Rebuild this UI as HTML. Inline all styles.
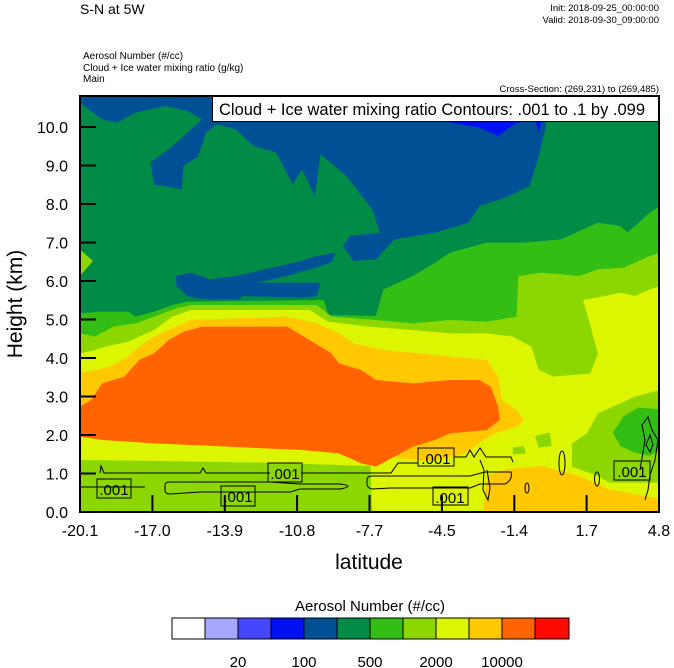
<!DOCTYPE html>
<html><head><meta charset="utf-8"><style>
body{margin:0;background:#fff;}
svg{display:block;font-family:"Liberation Sans",sans-serif;}
</style></head><body>
<svg width="674" height="668" viewBox="0 0 674 668" xmlns="http://www.w3.org/2000/svg">
<defs><clipPath id="pc"><rect x="80" y="96" width="579" height="416"/></clipPath></defs>
<g clip-path="url(#pc)">
<rect x="80" y="96" width="579" height="416" fill="#008c46"/>
<g transform="translate(80,96) scale(0.36996,0.33333)">
<!-- blue -->
<path fill="#005096" d="M0,0 L1250,0 L1260,90 L1240,180 L1215,270 L1150,305 L1080,330 L1050,380 L960,410 L850,430 L800,490 L740,495 L710,450 L730,420 L810,410 L790,340 L720,240 L650,175 L635,300 L600,220 L575,265 L530,170 L470,150 L420,100 L370,85 L340,110 L320,180 L280,210 L275,280 L200,265 L190,200 L240,160 L330,70 L290,45 L230,30 L150,50 L100,80 L60,70 L0,20 Z"/>
<path fill="#0010f0" d="M960,60 L1000,80 L1080,95 L1130,120 L1180,80 L1230,70 L1240,110 L1250,60 L1240,40 L960,40 Z"/>
<path fill="#005096" d="M260,540 L300,530 L350,550 L420,540 L500,520 L580,500 L640,480 L690,470 L680,500 L620,520 L560,540 L480,560 L440,580 L420,600 L400,580 L350,570 L330,610 L290,600 L260,570 Z"/>
<path fill="#005096" d="M260,560 L650,560 L640,600 L600,605 L440,600 L430,610 L350,610 L300,600 Z"/>
<!-- green -->
<path fill="#32be14" d="M0,652 L50,647 L130,647 L150,662 L200,647 L250,627 L290,617 L660,612 L670,657 L800,660 L820,580 L900,540 L960,500 L1000,470 L1100,440 L1200,440 L1300,430 L1400,380 L1460,390 L1480,410 L1540,350 L1568,330 L1568,1248 L0,1248 Z"/>
<path fill="#8cd700" d="M0,460 L35,495 L0,540 Z"/>
<!-- light green -->
<path fill="#8cd700" d="M0,712 L40,722 L90,692 L150,682 L200,662 L260,637 L300,627 L640,627 L680,662 L800,672 L900,682 L1000,672 L1100,677 L1180,662 L1185,540 L1250,530 L1350,540 L1400,520 L1470,515 L1540,480 L1568,470 L1568,1248 L0,1248 Z"/>
<!-- yellow -->
<path fill="#dcf500" d="M0,772 L40,762 L70,752 L130,737 L200,702 L250,662 L300,642 L620,642 L670,677 L780,692 L900,702 L1000,712 L1100,712 L1170,722 L1220,752 L1240,822 L1280,842 L1380,832 L1400,772 L1380,692 L1360,612 L1420,600 L1460,590 L1500,600 L1540,580 L1568,570 L1568,1248 L0,1248 Z"/>
<!-- gold -->
<path fill="#ffc800" d="M0,832 L40,822 L80,812 L130,782 L160,752 L200,722 L240,702 L300,672 L560,662 L640,682 L700,712 L740,742 L820,762 L920,772 L1000,782 L1100,792 L1130,842 L1140,912 L1180,942 L1200,972 L1180,992 L1120,1012 L1080,1042 L1040,1072 L950,1095 L850,1085 L780,1065 L600,1045 L400,1038 L200,1032 L0,1025 Z"/>
<!-- orange -->
<path fill="#ff6400" d="M0,932 L30,912 L60,862 L120,842 L160,792 L200,772 L240,732 L280,707 L330,692 L560,692 L620,732 L680,772 L700,802 L760,822 L800,852 L900,862 L1000,852 L1080,852 L1110,872 L1130,932 L1135,972 L1100,1002 L1000,1012 L960,1032 L900,1052 L850,1082 L800,1112 L760,1102 L700,1072 L600,1062 L400,1052 L200,1042 L60,1032 L0,1022 Z"/>
<!-- bottom-left light green -->
<path fill="#8cd700" d="M0,1092 L200,1095 L500,1100 L785,1110 L790,1248 L0,1248 Z"/>
<!-- right side patches -->
<path fill="#8cd700" d="M1568,882 L1500,902 L1400,952 L1370,1012 L1330,1042 L1330,1112 L1400,1140 L1430,1160 L1568,1160 Z"/>
<path fill="#8cd700" d="M1230,1020 L1270,1010 L1275,1050 L1240,1055 Z M1170,1055 L1200,1050 L1205,1072 L1170,1075 Z"/>
<path fill="#32be14" d="M1440,1010 L1470,960 L1510,935 L1568,940 L1568,1060 L1540,1080 L1500,1070 L1460,1050 Z"/>
<path fill="#ffc800" d="M1090,1248 L1100,1140 L1150,1120 L1250,1110 L1350,1140 L1430,1180 L1568,1210 L1568,1248 Z"/>
</g>
<!-- contours -->
<g fill="none" stroke="#000" stroke-width="1">
<path d="M80,487 H145"/>
<path d="M100,473 L101,466 L104,473 H200 L203,468 L206,473 H270"/>
<path d="M165,485 Q165,482 170,482 H270 L300,484 H340 Q356,486 340,489 H300 L290,492 H200 L170,494 Q165,494 165,490 Z"/>
<path d="M367,480 Q367,476 372,476 H470 L485,472 H511 Q513,480 505,484 H480 L470,488 H390 L372,489 Q367,488 367,484 Z"/>
<path d="M301,473 H391 L398,463 H418"/>
<path d="M454,457 H466 L470,450 L474,457 L480,448 L486,457 H511 L513,462"/>
<path d="M480,460 L484,470 L483,490 L488,500 L490,488 L487,470"/>
<ellipse cx="562" cy="463" rx="3" ry="12"/>
<ellipse cx="597" cy="479" rx="2.5" ry="7"/>
<ellipse cx="527" cy="488" rx="2" ry="5"/>
<path d="M640,470 L645,440 L642,425 L648,417 L652,430 L658,440 L655,460 L650,475 L648,490 L645,500"/>
<path d="M646,445 L650,435 L653,445 L650,452 Z"/>
</g>
<g font-size="15" text-anchor="middle">
<rect x="97" y="479" width="34" height="19" fill="none" stroke="#000"/><text x="114" y="495">.001</text>
<rect x="221" y="486" width="34" height="20" fill="none" stroke="#000"/><text x="238" y="502">.001</text>
<rect x="268" y="463" width="34" height="19" fill="none" stroke="#000"/><text x="285" y="479">.001</text>
<rect x="418" y="448" width="36" height="18" fill="none" stroke="#000"/><text x="436" y="464">.001</text>
<rect x="433" y="487" width="35" height="18" fill="none" stroke="#000"/><text x="450" y="503">.001</text>
<rect x="614" y="461" width="36" height="19" fill="none" stroke="#000"/><text x="632" y="477">.001</text>
</g>
<rect x="212.5" y="96.5" width="446" height="25" fill="#fff" stroke="#000"/>
<text x="219" y="115" font-size="16.5">Cloud + Ice water mixing ratio Contours: .001 to .1 by .099</text>
</g>
<rect x="80" y="96" width="579" height="416" fill="none" stroke="#000" stroke-width="2"/>
<!-- ticks -->
<g stroke="#000" stroke-width="2">
<path d="M80,127h16M80,165.5h16M80,204h16M80,242.5h16M80,281h16M80,319.5h16M80,358h16M80,396.5h16M80,435h16M80,473.5h16"/>
<path d="M152.4,512v-17M224.8,512v-17M297.1,512v-17M369.5,512v-17M441.9,512v-17M514.3,512v-17M586.6,512v-17"/>
</g>
<g font-size="16" text-anchor="end">
<text x="68" y="133">10.0</text><text x="68" y="171.5">9.0</text><text x="68" y="210">8.0</text><text x="68" y="248.5">7.0</text><text x="68" y="287">6.0</text><text x="68" y="325.5">5.0</text><text x="68" y="364">4.0</text><text x="68" y="402.5">3.0</text><text x="68" y="441">2.0</text><text x="68" y="479.5">1.0</text><text x="68" y="518">0.0</text>
</g>
<g font-size="16" text-anchor="middle">
<text x="80" y="536">-20.1</text><text x="152.4" y="536">-17.0</text><text x="224.8" y="536">-13.9</text><text x="297.1" y="536">-10.8</text><text x="369.5" y="536">-7.7</text><text x="441.9" y="536">-4.5</text><text x="514.3" y="536">-1.4</text><text x="586.6" y="536">1.7</text><text x="659" y="536">4.8</text>
</g>
<text x="369" y="569" font-size="21" text-anchor="middle">latitude</text>
<text transform="translate(22,304) rotate(-90)" font-size="21" text-anchor="middle">Height (km)</text>
<text x="80" y="14" font-size="14">S-N at 5W</text>
<g font-size="9.5" text-anchor="end"><text x="659" y="11">Init: 2018-09-25_00:00:00</text><text x="659" y="23">Valid: 2018-09-30_09:00:00</text><text x="659" y="92">Cross-Section: (269,231) to (269,485)</text></g>
<g font-size="10"><text x="83" y="59">Aerosol Number   (#/cc)</text><text x="83" y="71">Cloud + Ice water mixing ratio   (g/kg)</text><text x="83" y="82">Main</text></g>
<!-- colorbar -->
<text x="370" y="611" font-size="15" text-anchor="middle">Aerosol Number  (#/cc)</text>
<g stroke="#000" stroke-width="1">
<rect x="172" y="618" width="33" height="21" fill="#ffffff"/>
<rect x="205" y="618" width="33" height="21" fill="#a6a6ff"/>
<rect x="238" y="618" width="33" height="21" fill="#4646ff"/>
<rect x="271" y="618" width="33" height="21" fill="#0010f0"/>
<rect x="304" y="618" width="33" height="21" fill="#005096"/>
<rect x="337" y="618" width="33" height="21" fill="#008c46"/>
<rect x="370" y="618" width="33" height="21" fill="#32be14"/>
<rect x="403" y="618" width="33" height="21" fill="#8cd700"/>
<rect x="436" y="618" width="33" height="21" fill="#dcf500"/>
<rect x="469" y="618" width="33" height="21" fill="#ffc800"/>
<rect x="502" y="618" width="33" height="21" fill="#ff6400"/>
<rect x="535" y="618" width="34" height="21" fill="#ff0a00"/>
</g>
<g font-size="15" text-anchor="middle"><text x="238" y="667">20</text><text x="304" y="667">100</text><text x="370" y="667">500</text><text x="436" y="667">2000</text><text x="502" y="667">10000</text></g>
</svg>
</body></html>
